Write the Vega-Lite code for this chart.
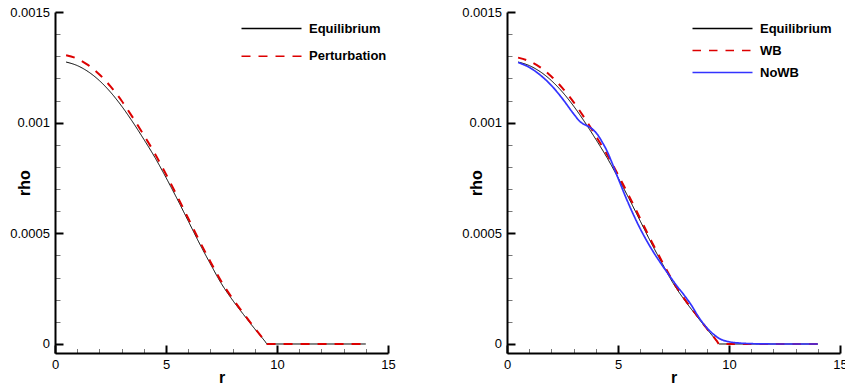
{
  "$schema": "https://vega.github.io/schema/vega-lite/v6.json",
  "padding": {"left": 9, "top": 6, "right": 5, "bottom": 0},
  "background": "white",
  "config": {
    "font": "Liberation Sans",
    "view": {"stroke": null}
  },
  "datasets": {
    "left": [
      {"series": "Equilibrium", "r": 0.5, "rho": 0.001274},
      {"series": "Equilibrium", "r": 1, "rho": 0.001258},
      {"series": "Equilibrium", "r": 1.5, "rho": 0.00123},
      {"series": "Equilibrium", "r": 2, "rho": 0.00119},
      {"series": "Equilibrium", "r": 2.5, "rho": 0.001138},
      {"series": "Equilibrium", "r": 3, "rho": 0.001075},
      {"series": "Equilibrium", "r": 3.5, "rho": 0.001003},
      {"series": "Equilibrium", "r": 4, "rho": 0.000925},
      {"series": "Equilibrium", "r": 4.5, "rho": 0.000843},
      {"series": "Equilibrium", "r": 5, "rho": 0.000752},
      {"series": "Equilibrium", "r": 5.5, "rho": 0.000656},
      {"series": "Equilibrium", "r": 6, "rho": 0.000556},
      {"series": "Equilibrium", "r": 6.5, "rho": 0.000456},
      {"series": "Equilibrium", "r": 7, "rho": 0.000362},
      {"series": "Equilibrium", "r": 7.5, "rho": 0.000272},
      {"series": "Equilibrium", "r": 8, "rho": 0.000198},
      {"series": "Equilibrium", "r": 8.5, "rho": 0.000132},
      {"series": "Equilibrium", "r": 9, "rho": 0.000068},
      {"series": "Equilibrium", "r": 9.3, "rho": 0.0000315},
      {"series": "Equilibrium", "r": 9.45, "rho": 0.0000133},
      {"series": "Equilibrium", "r": 9.56, "rho": 0},
      {"series": "Equilibrium", "r": 14, "rho": 0},
      {"series": "Perturbation", "r": 0.5, "rho": 0.001305},
      {"series": "Perturbation", "r": 1, "rho": 0.001289},
      {"series": "Perturbation", "r": 1.5, "rho": 0.00126},
      {"series": "Perturbation", "r": 2, "rho": 0.001218},
      {"series": "Perturbation", "r": 2.5, "rho": 0.001164},
      {"series": "Perturbation", "r": 3, "rho": 0.001099},
      {"series": "Perturbation", "r": 3.5, "rho": 0.001024},
      {"series": "Perturbation", "r": 4, "rho": 0.000944},
      {"series": "Perturbation", "r": 4.5, "rho": 0.00086},
      {"series": "Perturbation", "r": 5, "rho": 0.000767},
      {"series": "Perturbation", "r": 5.5, "rho": 0.000669},
      {"series": "Perturbation", "r": 6, "rho": 0.000568},
      {"series": "Perturbation", "r": 6.5, "rho": 0.000467},
      {"series": "Perturbation", "r": 7, "rho": 0.000372},
      {"series": "Perturbation", "r": 7.5, "rho": 0.000281},
      {"series": "Perturbation", "r": 8, "rho": 0.000205},
      {"series": "Perturbation", "r": 8.5, "rho": 0.000137},
      {"series": "Perturbation", "r": 9, "rho": 0.000071},
      {"series": "Perturbation", "r": 9.3, "rho": 0.000033},
      {"series": "Perturbation", "r": 9.45, "rho": 0.000014},
      {"series": "Perturbation", "r": 9.56, "rho": 0},
      {"series": "Perturbation", "r": 14, "rho": 0}
    ],
    "right": [
      {"series": "Equilibrium", "r": 0.5, "rho": 0.001274},
      {"series": "Equilibrium", "r": 1, "rho": 0.001258},
      {"series": "Equilibrium", "r": 1.5, "rho": 0.00123},
      {"series": "Equilibrium", "r": 2, "rho": 0.00119},
      {"series": "Equilibrium", "r": 2.5, "rho": 0.001138},
      {"series": "Equilibrium", "r": 3, "rho": 0.001075},
      {"series": "Equilibrium", "r": 3.5, "rho": 0.001003},
      {"series": "Equilibrium", "r": 4, "rho": 0.000925},
      {"series": "Equilibrium", "r": 4.5, "rho": 0.000843},
      {"series": "Equilibrium", "r": 5, "rho": 0.000752},
      {"series": "Equilibrium", "r": 5.5, "rho": 0.000656},
      {"series": "Equilibrium", "r": 6, "rho": 0.000556},
      {"series": "Equilibrium", "r": 6.5, "rho": 0.000456},
      {"series": "Equilibrium", "r": 7, "rho": 0.000362},
      {"series": "Equilibrium", "r": 7.5, "rho": 0.000272},
      {"series": "Equilibrium", "r": 8, "rho": 0.000198},
      {"series": "Equilibrium", "r": 8.5, "rho": 0.000132},
      {"series": "Equilibrium", "r": 9, "rho": 0.000068},
      {"series": "Equilibrium", "r": 9.3, "rho": 0.0000315},
      {"series": "Equilibrium", "r": 9.45, "rho": 0.0000133},
      {"series": "Equilibrium", "r": 9.56, "rho": 0},
      {"series": "Equilibrium", "r": 14, "rho": 0},
      {"series": "WB", "r": 0.5, "rho": 0.001294},
      {"series": "WB", "r": 1, "rho": 0.001278},
      {"series": "WB", "r": 1.5, "rho": 0.00125},
      {"series": "WB", "r": 2, "rho": 0.001209},
      {"series": "WB", "r": 2.5, "rho": 0.001156},
      {"series": "WB", "r": 3, "rho": 0.001093},
      {"series": "WB", "r": 3.5, "rho": 0.00102},
      {"series": "WB", "r": 4, "rho": 0.00094},
      {"series": "WB", "r": 4.5, "rho": 0.000857},
      {"series": "WB", "r": 5, "rho": 0.000765},
      {"series": "WB", "r": 5.5, "rho": 0.000668},
      {"series": "WB", "r": 6, "rho": 0.000567},
      {"series": "WB", "r": 6.5, "rho": 0.000466},
      {"series": "WB", "r": 7, "rho": 0.00037},
      {"series": "WB", "r": 7.5, "rho": 0.000279},
      {"series": "WB", "r": 8, "rho": 0.000203},
      {"series": "WB", "r": 8.5, "rho": 0.000136},
      {"series": "WB", "r": 9, "rho": 0.00007},
      {"series": "WB", "r": 9.3, "rho": 0.000033},
      {"series": "WB", "r": 9.45, "rho": 0.000014},
      {"series": "WB", "r": 9.56, "rho": 0},
      {"series": "WB", "r": 14, "rho": 0},
      {"series": "NoWB", "r": 0.5, "rho": 0.001272},
      {"series": "NoWB", "r": 1, "rho": 0.00125},
      {"series": "NoWB", "r": 1.5, "rho": 0.001215},
      {"series": "NoWB", "r": 2, "rho": 0.001168},
      {"series": "NoWB", "r": 2.5, "rho": 0.001108},
      {"series": "NoWB", "r": 3, "rho": 0.00104},
      {"series": "NoWB", "r": 3.3, "rho": 0.001004},
      {"series": "NoWB", "r": 3.5, "rho": 0.000991},
      {"series": "NoWB", "r": 3.7, "rho": 0.000981},
      {"series": "NoWB", "r": 3.9, "rho": 0.000966},
      {"series": "NoWB", "r": 4.1, "rho": 0.000943},
      {"series": "NoWB", "r": 4.3, "rho": 0.00091},
      {"series": "NoWB", "r": 4.5, "rho": 0.000873},
      {"series": "NoWB", "r": 4.7, "rho": 0.000826},
      {"series": "NoWB", "r": 4.9, "rho": 0.000775},
      {"series": "NoWB", "r": 5.1, "rho": 0.000725},
      {"series": "NoWB", "r": 5.3, "rho": 0.000675},
      {"series": "NoWB", "r": 5.5, "rho": 0.000628},
      {"series": "NoWB", "r": 6, "rho": 0.000521},
      {"series": "NoWB", "r": 6.5, "rho": 0.000431},
      {"series": "NoWB", "r": 7, "rho": 0.000354},
      {"series": "NoWB", "r": 7.3, "rho": 0.000311},
      {"series": "NoWB", "r": 7.6, "rho": 0.000269},
      {"series": "NoWB", "r": 8, "rho": 0.000218},
      {"series": "NoWB", "r": 8.3, "rho": 0.000176},
      {"series": "NoWB", "r": 8.6, "rho": 0.000127},
      {"series": "NoWB", "r": 9, "rho": 0.000073},
      {"series": "NoWB", "r": 9.3, "rho": 0.000044},
      {"series": "NoWB", "r": 9.56, "rho": 0.000025},
      {"series": "NoWB", "r": 10, "rho": 0.00001},
      {"series": "NoWB", "r": 10.5, "rho": 0.000004},
      {"series": "NoWB", "r": 11, "rho": 0.0000015},
      {"series": "NoWB", "r": 11.5, "rho": 0.0000005},
      {"series": "NoWB", "r": 12, "rho": 0},
      {"series": "NoWB", "r": 14, "rho": 0}
    ]
  },
  "hconcat": [
    {
      "width": 333,
      "height": 341,
      "data": {"name": "left"},
      "resolve": {"scale": {"x": "independent", "y": "independent"}},
      "layer": [
        {
          "mark": {"type": "line", "opacity": 0},
          "encoding": {
            "x": {
              "field": "r", "type": "quantitative",
              "scale": {"domain": [0, 15], "nice": false, "zero": false},
              "axis": {
                "orient": "bottom", "title": null, "labels": false, "domain": false, "grid": false,
                "values": [1,2,3,4,6,7,8,9,11,12,13,14],
                "tickSize": -4.5, "tickColor": "#777777", "tickWidth": 1
              }
            },
            "y": {
              "field": "rho", "type": "quantitative",
              "scale": {"domain": [-0.0000407, 0.0015], "nice": false, "zero": false},
              "axis": {
                "orient": "left", "title": null, "labels": false, "domain": false, "grid": false,
                "values": [0.0001,0.0002,0.0003,0.0004,0.0006,0.0007,0.0008,0.0009,0.0011,0.0012,0.0013,0.0014],
                "tickSize": -5, "tickColor": "#777777", "tickWidth": 1
              }
            },
            "detail": {"field": "series", "type": "nominal"}
          }
        },
        {
          "mark": {"type": "line", "interpolate": "monotone"},
          "encoding": {
            "x": {
              "field": "r", "type": "quantitative",
              "scale": {"domain": [0, 15], "nice": false, "zero": false},
              "axis": {
                "orient": "bottom", "title": "r",
                "values": [0, 5, 10, 15],
                "labelFlush": false, "labelOverlap": false,
                "labelFontSize": 13, "labelColor": "black", "labelPadding": 13,
                "tickSize": -8, "tickColor": "black", "tickWidth": 2, "grid": false,
                "domainColor": "black", "domainWidth": 2,
                "titleFontSize": 16, "titleFontWeight": "bold", "titleColor": "black",
                "titleY": 29, "titleBaseline": "alphabetic"
              }
            },
            "y": {
              "field": "rho", "type": "quantitative",
              "scale": {"domain": [-0.0000407, 0.0015], "nice": false, "zero": false},
              "axis": {
                "orient": "left", "title": "rho",
                "values": [0, 0.0005, 0.001, 0.0015],
                "labelExpr": "format(datum.value, '~g')",
                "labelOverlap": false,
                "labelFontSize": 13, "labelColor": "black", "labelPadding": 13.5,
                "tickSize": -8, "tickColor": "black", "tickWidth": 2, "grid": false,
                "domainColor": "black", "domainWidth": 2,
                "titleFontSize": 16, "titleFontWeight": "bold", "titleColor": "black",
                "titleX": -26, "titleBaseline": "alphabetic"
              }
            },
            "color": {
              "field": "series", "type": "nominal",
              "scale": {"domain": ["Equilibrium", "Perturbation"], "range": ["black", "#dd0000"]},
              "legend": {
                "title": null, "orient": "none", "legendX": 185, "legendY": 10,
                "symbolType": "M-6,0H6", "symbolSize": 100, "symbolOffset": 25, "rowPadding": 13.8,
                "symbolStrokeWidth": 1.6,
                "labelOffset": 31, "labelFontSize": 13, "labelFontWeight": "bold", "labelColor": "black",
                "padding": 0
              }
            },
            "strokeDash": {
              "field": "series", "type": "nominal",
              "scale": {"domain": ["Equilibrium", "Perturbation"], "range": [[1, 0], [9, 8]]},
              "legend": {
                "title": null, "orient": "none", "legendX": 185, "legendY": 10,
                "symbolType": "M-6,0H6", "symbolSize": 100, "symbolOffset": 25, "rowPadding": 13.8,
                "symbolStrokeWidth": 1.6,
                "labelOffset": 31, "labelFontSize": 13, "labelFontWeight": "bold", "labelColor": "black",
                "padding": 0
              }
            },
            "strokeWidth": {
              "condition": {"test": "datum.series === 'Equilibrium'", "value": 1},
              "value": 2
            }
          }
        }
      ]
    },
    {
      "width": 333,
      "height": 341,
      "data": {"name": "right"},
      "resolve": {"scale": {"x": "independent", "y": "independent"}},
      "layer": [
        {
          "mark": {"type": "line", "opacity": 0},
          "encoding": {
            "x": {
              "field": "r", "type": "quantitative",
              "scale": {"domain": [0, 15], "nice": false, "zero": false},
              "axis": {
                "orient": "bottom", "title": null, "labels": false, "domain": false, "grid": false,
                "values": [1,2,3,4,6,7,8,9,11,12,13,14],
                "tickSize": -4.5, "tickColor": "#777777", "tickWidth": 1
              }
            },
            "y": {
              "field": "rho", "type": "quantitative",
              "scale": {"domain": [-0.0000407, 0.0015], "nice": false, "zero": false},
              "axis": {
                "orient": "left", "title": null, "labels": false, "domain": false, "grid": false,
                "values": [0.0001,0.0002,0.0003,0.0004,0.0006,0.0007,0.0008,0.0009,0.0011,0.0012,0.0013,0.0014],
                "tickSize": -5, "tickColor": "#777777", "tickWidth": 1
              }
            },
            "detail": {"field": "series", "type": "nominal"}
          }
        },
        {
          "mark": {"type": "line", "interpolate": "monotone"},
          "encoding": {
            "x": {
              "field": "r", "type": "quantitative",
              "scale": {"domain": [0, 15], "nice": false, "zero": false},
              "axis": {
                "orient": "bottom", "title": "r",
                "values": [0, 5, 10, 15],
                "labelFlush": false, "labelOverlap": false,
                "labelFontSize": 13, "labelColor": "black", "labelPadding": 13,
                "tickSize": -8, "tickColor": "black", "tickWidth": 2, "grid": false,
                "domainColor": "black", "domainWidth": 2,
                "titleFontSize": 16, "titleFontWeight": "bold", "titleColor": "black",
                "titleY": 29, "titleBaseline": "alphabetic"
              }
            },
            "y": {
              "field": "rho", "type": "quantitative",
              "scale": {"domain": [-0.0000407, 0.0015], "nice": false, "zero": false},
              "axis": {
                "orient": "left", "title": "rho",
                "values": [0, 0.0005, 0.001, 0.0015],
                "labelExpr": "format(datum.value, '~g')",
                "labelOverlap": false,
                "labelFontSize": 13, "labelColor": "black", "labelPadding": 13.5,
                "tickSize": -8, "tickColor": "black", "tickWidth": 2, "grid": false,
                "domainColor": "black", "domainWidth": 2,
                "titleFontSize": 16, "titleFontWeight": "bold", "titleColor": "black",
                "titleX": -26, "titleBaseline": "alphabetic"
              }
            },
            "color": {
              "field": "series", "type": "nominal",
              "scale": {"domain": ["Equilibrium", "WB", "NoWB"], "range": ["black", "#dd0000", "#3333ff"]},
              "legend": {
                "title": null, "orient": "none", "legendX": 184, "legendY": 10,
                "symbolType": "M-6,0H6", "symbolSize": 100, "symbolOffset": 25, "rowPadding": 8,
                "symbolStrokeWidth": 1.6,
                "labelOffset": 31, "labelFontSize": 13, "labelFontWeight": "bold", "labelColor": "black",
                "padding": 0
              }
            },
            "strokeDash": {
              "field": "series", "type": "nominal",
              "scale": {"domain": ["Equilibrium", "WB", "NoWB"], "range": [[1, 0], [8.5, 8], [1, 0]]},
              "legend": {
                "title": null, "orient": "none", "legendX": 184, "legendY": 10,
                "symbolType": "M-6,0H6", "symbolSize": 100, "symbolOffset": 25, "rowPadding": 8,
                "symbolStrokeWidth": 1.6,
                "labelOffset": 31, "labelFontSize": 13, "labelFontWeight": "bold", "labelColor": "black",
                "padding": 0
              }
            },
            "strokeWidth": {
              "condition": [
                {"test": "datum.series === 'Equilibrium'", "value": 1},
                {"test": "datum.series === 'NoWB'", "value": 1.7}
              ],
              "value": 2
            }
          }
        }
      ]
    }
  ],
  "spacing": 119,
  "bounds": "flush",
  "resolve": {
    "scale": {"color": "independent", "strokeDash": "independent"},
    "legend": {"color": "independent", "strokeDash": "independent"}
  }
}
